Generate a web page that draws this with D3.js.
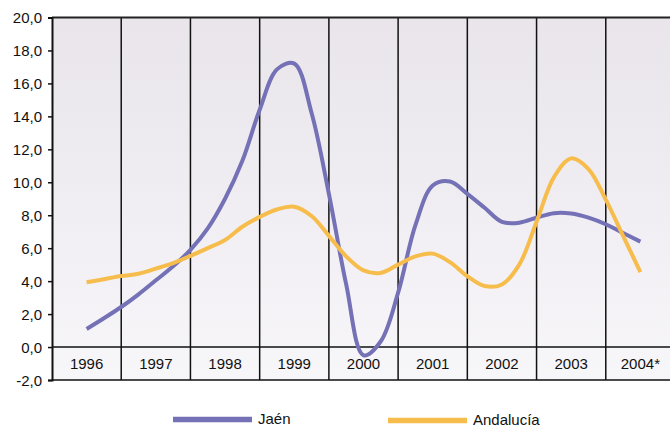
<!DOCTYPE html>
<html><head><meta charset="utf-8">
<script src="https://cdn.jsdelivr.net/npm/d3@7"></script>
<style>body{margin:0;background:#fff}svg{display:block}</style>
</head><body>
<svg id="c" width="670" height="426"></svg>
<script>
const years = ["1996","1997","1998","1999","2000","2001","2002","2003","2004*"];
const yTicks = [-2,0,2,4,6,8,10,12,14,16,18,20];
// quarterly positions, in years from the 1996 centre
const quarters = d3.range(0, 8.01, 0.25);
const jaen = [1.1,1.75,2.43,3.2,4.05,4.9,5.9,7.2,9.0,11.3,14.4,16.85,17.2,14.2,9.3,3.8,-0.5,0.35,3.3,7.4,9.8,10.05,9.3,8.45,7.6,7.55,7.85,8.12,8.1,7.85,7.45,6.92,6.4];
const andalucia = [3.93,4.12,4.31,4.45,4.76,5.1,5.53,6.0,6.5,7.3,7.9,8.35,8.52,7.95,6.75,5.5,4.65,4.5,5.0,5.5,5.67,5.15,4.3,3.7,3.8,5.0,7.6,10.3,11.45,10.8,8.95,6.75,4.55];
const seriesNames = ["Jaén","Andalucía"];
const colors = ["#7471b6","#f6bd4c"];

const FONT = "Liberation Sans, Arial, Helvetica, sans-serif";
const svg = d3.select("#c");
const L = 52, R = 675, T = 17.5, B = 380;
const x = d3.scaleBand().domain(years).range([L, R]);
const xt = d3.scaleLinear().domain([-0.5, years.length - 0.5]).range([L, R]);
const y = d3.scaleLinear().domain([-2, 20]).range([B, T]);

const defs = svg.append("defs");
const g = defs.append("linearGradient").attr("id","bg").attr("x1",0).attr("y1",0).attr("x2",0).attr("y2",1);
g.append("stop").attr("offset","0").attr("stop-color","#e9e5eb");
g.append("stop").attr("offset","1").attr("stop-color","#f7f6f9");
svg.append("rect").attr("x",L).attr("y",T).attr("width",R-L).attr("height",B-T).attr("fill","url(#bg)");

// vertical separators
svg.append("g").selectAll("line").data(years.slice(1)).join("line")
  .attr("x1",d=>x(d)).attr("x2",d=>x(d)).attr("y1",T).attr("y2",B)
  .attr("stroke","#111").attr("stroke-width",1.5);
// horizontal lines at 0 and -2, top border
[0,-2].forEach(v=>svg.append("line").attr("x1",L).attr("x2",R).attr("y1",y(v)).attr("y2",y(v)).attr("stroke","#111").attr("stroke-width",1.6));
svg.append("line").attr("x1",L).attr("x2",R).attr("y1",T).attr("y2",T).attr("stroke","#222").attr("stroke-width",2.2);

const loc = d3.formatLocale({decimal:",",thousands:".",grouping:[3],currency:["","€"],minus:"-"});
const fmt = loc.format(".1f");
const ax = svg.append("g").attr("transform",`translate(${L},0)`)
  .call(d3.axisLeft(y).tickValues(yTicks).tickFormat(fmt).tickSize(4).tickPadding(6));
ax.select(".domain").attr("stroke","#111").attr("stroke-width",2);
ax.selectAll(".tick line").attr("stroke","#111").attr("stroke-width",1.5);
ax.selectAll("text").attr("font-family",FONT).attr("font-size",15).attr("fill","#111").attr("dy","0.35em");

// year labels
svg.append("g").selectAll("text").data(years).join("text")
  .attr("x",d=>x(d)+x.bandwidth()/2).attr("y",(y(0)+y(-2))/2+5.5)
  .attr("text-anchor","middle").attr("font-family",FONT)
  .attr("font-size",15).attr("fill","#111").text(d=>d);

const line = d3.line().x((d,i)=>xt(quarters[i])).y(d=>y(d)).curve(d3.curveCatmullRom.alpha(0.5));
[jaen, andalucia].forEach((s,i)=>{
  svg.append("path").datum(s).attr("d",line).attr("fill","none")
    .attr("stroke",colors[i]).attr("stroke-width",4).attr("stroke-linejoin","round");
});

// legend
const lg = [{x:173,y:419.5},{x:388,y:420.5}];
seriesNames.forEach((n,i)=>{
  svg.append("line").attr("x1",lg[i].x).attr("x2",lg[i].x+79).attr("y1",lg[i].y).attr("y2",lg[i].y)
    .attr("stroke",colors[i]).attr("stroke-width",5.5);
  svg.append("text").attr("x",lg[i].x+85).attr("y",lg[i].y+4)
    .attr("font-family",FONT).attr("font-size",15).attr("fill","#111").text(n);
});
</script>
</body></html>
